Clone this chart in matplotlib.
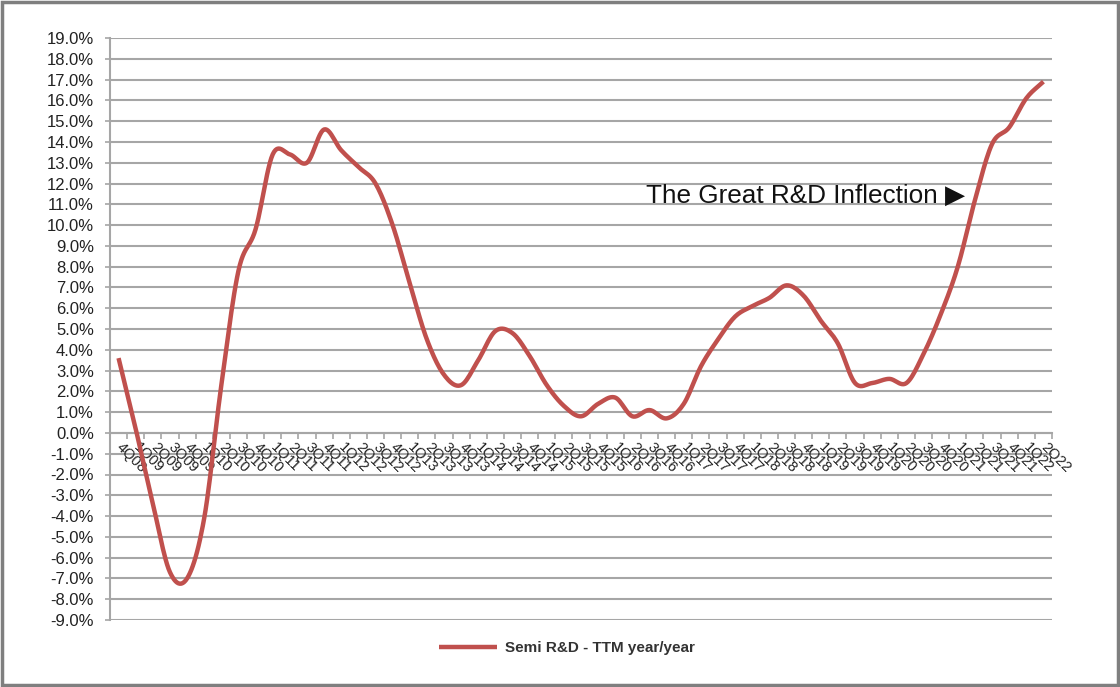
import matplotlib
matplotlib.use("Agg")
import matplotlib.pyplot as plt
import numpy as np
from matplotlib.patches import Rectangle

plt.rcParams['font.family'] = ['Liberation Sans', 'DejaVu Sans']

# quarters 4Q08 .. 2Q22
quarters = ['4Q08']
for yy in range(9, 23):
    for q in range(1, 5):
        quarters.append('%dQ%02d' % (q, yy))
quarters = quarters[:55]

# Semi R&D - TTM year/year growth (%)
growth = [3.6, 0.2, -3.4, -6.7, -7.0, -4.1, 2.3, 7.8, 9.8, 13.4,
          13.4, 13.0, 14.6, 13.6, 12.8, 12.0, 10.0, 7.2, 4.5, 2.8,
          2.3, 3.5, 4.9, 4.8, 3.7, 2.3, 1.3, 0.8, 1.4, 1.7,
          0.8, 1.1, 0.7, 1.4, 3.2, 4.5, 5.6, 6.1, 6.5, 7.1,
          6.6, 5.4, 4.3, 2.4, 2.4, 2.6, 2.4, 3.8, 5.7, 8.0,
          11.2, 13.9, 14.7, 16.1, 16.9]

ytick_vals = np.arange(-9, 20, 1)
ytick_labels = ['%.1f%%' % v for v in ytick_vals]


def smooth(x, y, n=12):
    # catmull-rom style smoothing like Excel's "smoothed line"
    x = np.asarray(x, float)
    y = np.asarray(y, float)
    px = np.concatenate([[2 * x[0] - x[1]], x, [2 * x[-1] - x[-2]]])
    py = np.concatenate([[2 * y[0] - y[1]], y, [2 * y[-1] - y[-2]]])
    xs, ys = [], []
    t = np.linspace(0, 1, n, endpoint=False)
    for i in range(1, len(px) - 2):
        for arr, out in ((px, xs), (py, ys)):
            p0, p1, p2, p3 = arr[i - 1], arr[i], arr[i + 1], arr[i + 2]
            out.extend(0.5 * ((2 * p1) + (-p0 + p2) * t +
                              (2 * p0 - 5 * p1 + 4 * p2 - p3) * t ** 2 +
                              (-p0 + 3 * p1 - 3 * p2 + p3) * t ** 3))
    xs.append(x[-1])
    ys.append(y[-1])
    return np.array(xs), np.array(ys)


fig = plt.figure(figsize=(11.2, 6.87), dpi=100)
ax = fig.add_axes([110 / 1120, 1 - 620 / 687, 942 / 1120, 582 / 687])

grid_col = '#a6a6a6'
for v in ytick_vals:
    ax.axhline(v, color=grid_col, lw=1.5, zorder=1)

xi = np.arange(len(growth))
sx, sy = smooth(xi, growth)
ax.plot(sx, sy, color='#c0504d', lw=3.2, solid_capstyle='butt', zorder=3,
        label='Semi R&D - TTM year/year')

ax.set_xlim(-0.5, len(growth) - 0.5)
ax.set_ylim(-9, 19)
ax.set_yticks(ytick_vals)
ax.set_yticklabels(ytick_labels, fontsize=12, color='#222222')
ax.tick_params(axis='y', length=3.6, color=grid_col, width=1.2, pad=8)

# category axis crossing at 0
ax.spines['bottom'].set_position(('data', 0))
ax.spines['bottom'].set_color(grid_col)
ax.spines['bottom'].set_linewidth(1.5)
ax.spines['left'].set_color(grid_col)
ax.spines['left'].set_linewidth(1.5)
ax.spines['top'].set_visible(False)
ax.spines['right'].set_visible(False)
ax.set_xticks(np.arange(-0.5, len(growth), 1))
ax.set_xticklabels([])
ax.tick_params(axis='x', which='major', length=4, color=grid_col, width=1.2)
ax.set_xticks(xi, minor=True)
ax.set_xticklabels(quarters, minor=True, rotation=-45, rotation_mode='anchor',
                   ha='left', va='center', fontsize=10.5, color='#222222')
ax.tick_params(axis='x', which='minor', length=0, pad=9)

ax.text(0.908, 0.729, 'The Great R&D Inflection \u25b6', transform=ax.transAxes,
        ha='right', va='center', fontsize=18.8, color='#111111')

leg = fig.legend(loc='center', bbox_to_anchor=(0.506, 1 - 648 / 687),
                 frameon=False, handlelength=3.8, handletextpad=0.5,
                 prop={'size': 11, 'weight': 'bold'})
for t in leg.get_texts():
    t.set_color('#333333')

# outer frame
fig.patches.append(Rectangle((0.002, 0.003), 0.996, 0.994, transform=fig.transFigure,
                             fill=False, edgecolor='#7f7f7f', lw=2.5))

fig.savefig('out.png', dpi=100)
